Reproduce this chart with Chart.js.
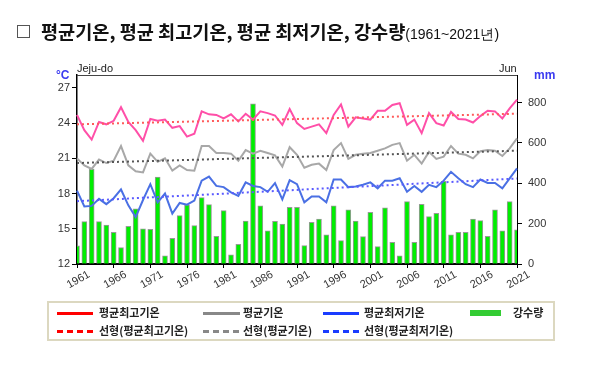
<!DOCTYPE html>
<html>
<head>
<meta charset="utf-8">
<script src="https://cdn.jsdelivr.net/npm/chart.js@4.4.1/dist/chart.umd.min.js"></script>
<style>
  body { margin: 0; width: 600px; height: 368px; background: #fff; position: relative; overflow: hidden; }
  canvas#chart { position: absolute; left: 0; top: 0; }
  .abs { position: absolute; white-space: nowrap; }
  .title { left: 41px; top: 18px; font-family: "Noto Sans CJK KR", sans-serif; font-size: 18.6px; font-weight: bold; color: #111; line-height: 25px; }
  .title small { font-size: 14px; font-weight: normal; font-family: "Liberation Sans", sans-serif; }
  .box { left: 17px; top: 25px; width: 11px; height: 11px; border: 1px solid #555; }
  .lbl { font-family: "Liberation Sans", Arial, sans-serif; font-size: 11px; color: #222; }
  .unit { font-family: "Liberation Sans", Arial, sans-serif; font-size: 12px; font-weight: bold; color: #3a3af0; }
  .legend { left: 47px; top: 301px; width: 504px; height: 36px; border: 2px solid #dcd8c0; }
  .lg { font-family: "Noto Sans CJK KR", sans-serif; font-size: 11px; font-weight: bold; color: #222; line-height: 13px; }
  .solid { height: 3px; }
  .dash { height: 3px; }
</style>
</head>
<body>
<canvas id="chart" width="600" height="368"></canvas>

<div class="abs box"></div>
<div class="abs title">평균기온, 평균 최고기온, 평균 최저기온, 강수량<small>(1961~2021년)</small></div>

<div class="abs lbl" style="left:77px; top:62px;">Jeju-do</div>
<div class="abs lbl" style="left:499px; top:62px;">Jun</div>
<div class="abs unit" style="left:56px; top:68px;">°C</div>
<div class="abs unit" style="left:534px; top:68px;">mm</div>

<div class="abs legend"></div>
<div class="abs solid" style="left:57px; top:312px; width:36px; background:#ff0000;"></div>
<div class="abs lg" style="left:99px; top:306px;">평균최고기온</div>
<div class="abs solid" style="left:203px; top:312px; width:37px; background:#888;"></div>
<div class="abs lg" style="left:243px; top:306px;">평균기온</div>
<div class="abs solid" style="left:323px; top:312px; width:36px; background:#1a3cff;"></div>
<div class="abs lg" style="left:364px; top:306px;">평균최저기온</div>
<div class="abs" style="left:470px; top:310px; width:31px; height:6px; background:#33cc33;"></div>
<div class="abs lg" style="left:513px; top:306px;">강수량</div>

<div class="abs dash" style="left:57px; top:330px; width:36px; background:repeating-linear-gradient(90deg, #ff0000 0 6px, transparent 6px 10px);"></div>
<div class="abs lg" style="left:99px; top:324px;">선형(평균최고기온)</div>
<div class="abs dash" style="left:203px; top:330px; width:36px; background:repeating-linear-gradient(90deg, #888 0 6px, transparent 6px 10px);"></div>
<div class="abs lg" style="left:243px; top:324px;">선형(평균기온)</div>
<div class="abs dash" style="left:323px; top:330px; width:36px; background:repeating-linear-gradient(90deg, #1a3cff 0 6px, transparent 6px 10px);"></div>
<div class="abs lg" style="left:364px; top:324px;">선형(평균최저기온)</div>

<script>
// years on the x axis (June of each year)
const years = [
  '1961','1962','1963','1964','1965','1966','1967','1968','1969','1970',
  '1971','1972','1973','1974','1975','1976','1977','1978','1979','1980',
  '1981','1982','1983','1984','1985','1986','1987','1988','1989','1990',
  '1991','1992','1993','1994','1995','1996','1997','1998','1999','2000',
  '2001','2002','2003','2004','2005','2006','2007','2008','2009','2010',
  '2011','2012','2013','2014','2015','2016','2017','2018','2019','2020','2021'
]
const tickYears = ['1961','1966','1971','1976','1981','1986','1991','1996','2001','2006','2011','2016','2021']

// 평균최고기온 (°C)
const tmax = [
  24.7, 23.4, 22.6, 24.1, 23.9, 24.2, 25.35, 24.1, 23.4, 22.5,
  24.35, 24.2, 24.3, 23.6, 23.75, 22.85, 23.1, 25.0, 24.75, 24.7,
  24.4, 24.75, 24.15, 24.8, 24.3, 25.0, 24.85, 24.65, 23.85, 25.2,
  24.0, 23.5, 23.7, 23.9, 23.15, 24.7, 25.6, 23.7, 24.5, 24.4,
  24.3, 25.05, 25.05, 25.55, 25.7, 23.85, 24.3, 23.15, 24.85, 24.0,
  23.8, 24.95, 24.35, 24.3, 24.05, 24.6, 25.05, 25.0, 24.4, 25.25, 26.0
]
// 평균기온 (°C)
const tmean = [
  21.0, 20.4, 20.1, 20.9, 20.6, 20.8, 22.05, 20.4, 19.9, 19.8,
  21.4, 20.7, 21.0, 19.95, 20.4, 20.0, 19.95, 22.05, 22.05, 21.45,
  21.45, 21.4, 20.8, 21.7, 21.4, 21.65, 21.45, 21.25, 20.3, 21.95,
  21.3, 20.2, 20.45, 20.55, 20.0, 21.7, 22.3, 20.95, 21.3, 21.4,
  21.45, 21.65, 21.85, 22.15, 22.3, 20.8, 21.3, 20.55, 21.55, 20.95,
  21.15, 22.05, 21.4, 21.3, 21.0, 21.6, 21.7, 21.65, 21.2, 21.85, 22.7
]
// 평균최저기온 (°C)
const tmin = [
  18.25, 16.9, 16.95, 17.55, 17.1, 17.6, 18.35, 17.0, 16.0, 17.45,
  18.8, 17.25, 18.0, 16.3, 17.2, 17.05, 17.4, 19.1, 19.45, 18.65,
  18.55, 18.1, 17.8, 18.95, 18.65, 18.55, 18.15, 18.9, 17.5, 19.15,
  18.8, 17.25, 17.75, 17.75, 17.25, 19.2, 19.2, 18.55, 18.6, 18.75,
  18.95, 18.45, 19.1, 19.1, 19.3, 18.15, 18.65, 18.15, 18.75, 18.55,
  19.1, 19.85, 19.3, 18.8, 18.55, 19.2, 18.9, 18.9, 18.45, 19.3, 20.15
]
// 강수량 (mm)
const rain = [
  90, 210, 471, 210, 193, 157, 81, 187, 274, 174,
  172, 431, 41, 127, 240, 293, 190, 329, 294, 137,
  265, 45, 98, 213, 794, 288, 165, 212, 198, 281,
  281, 91, 207, 223, 144, 289, 116, 268, 213, 136,
  256, 86, 279, 108, 41, 309, 108, 296, 235, 251,
  410, 144, 157, 157, 223, 215, 137, 268, 165, 309, 170
]
// trend lines, start (1961) and end (2021)
const trendMax = [23.9, 24.8]
const trendMean = [20.6, 21.65]
const trendMin = [17.35, 19.28]

const trend = (v) => [{ x: '1961', y: v[0] }, { x: '2021', y: v[1] }]

const tickFont = { family: 'Liberation Sans', size: 11 }

// top edge of the plot frame
const framePlugin = {
  id: 'frame',
  afterDraw(chart) {
    const { ctx, chartArea } = chart
    ctx.save()
    ctx.strokeStyle = '#444'
    ctx.lineWidth = 1
    ctx.beginPath()
    ctx.moveTo(chartArea.left, chartArea.top + 0.5)
    ctx.lineTo(chartArea.right, chartArea.top + 0.5)
    ctx.stroke()
    ctx.restore()
  }
}

const ctx = document.getElementById('chart').getContext('2d')
new Chart(ctx, {
  type: 'bar',
  data: {
    labels: years,
    datasets: [
      {
        type: 'line', label: '선형(평균최고기온)', data: trend(trendMax), yAxisID: 'y',
        borderColor: '#ff5a5a', borderWidth: 2, borderDash: [2, 3], pointRadius: 0, order: 0
      },
      {
        type: 'line', label: '선형(평균기온)', data: trend(trendMean), yAxisID: 'y',
        borderColor: '#555555', borderWidth: 2, borderDash: [2, 3], pointRadius: 0, order: 0
      },
      {
        type: 'line', label: '선형(평균최저기온)', data: trend(trendMin), yAxisID: 'y',
        borderColor: '#5a5aff', borderWidth: 2, borderDash: [2, 3], pointRadius: 0, order: 0
      },
      {
        type: 'line', label: '평균최고기온', data: tmax, yAxisID: 'y',
        borderColor: '#ff4fa8', borderWidth: 2, pointRadius: 0, tension: 0, order: 1
      },
      {
        type: 'line', label: '평균기온', data: tmean, yAxisID: 'y',
        borderColor: '#a8a8a8', borderWidth: 2, pointRadius: 0, tension: 0, order: 1
      },
      {
        type: 'line', label: '평균최저기온', data: tmin, yAxisID: 'y',
        borderColor: '#4a70e4', borderWidth: 2, pointRadius: 0, tension: 0, order: 1
      },
      {
        type: 'bar', label: '강수량', data: rain, yAxisID: 'y2',
        backgroundColor: '#00ee00', borderColor: '#999999', borderWidth: 1,
        barThickness: 5, order: 10
      }
    ]
  },
  options: {
    responsive: false,
    animation: false,
    layout: { padding: { top: 75, left: 0, right: 0, bottom: 0 } },
    plugins: {
      legend: { display: false },
      tooltip: { enabled: false }
    },
    scales: {
      x: {
        type: 'category',
        offset: false,
        grid: {
          offset: false,
          drawOnChartArea: false,
          tickLength: 4,
          tickColor: (c) => tickYears.includes(years[c.index]) ? '#000' : 'rgba(0,0,0,0)'
        },
        border: { color: '#000', width: 2 },
        ticks: {
          autoSkip: false,
          minRotation: 30,
          maxRotation: 30,
          labelOffset: 12,
          padding: 0,
          color: '#333',
          font: tickFont,
          callback: function(value, index) {
            return tickYears.includes(years[index]) ? years[index] : ''
          }
        },
        afterFit: (scale) => { scale.height = 104 }
      },
      y: {
        position: 'left',
        min: 12,
        max: 28.1,
        grid: { drawOnChartArea: false, tickLength: 5, tickColor: '#000' },
        border: { color: '#000', width: 1.5 },
        ticks: { stepSize: 3, includeBounds: false, padding: 2, color: '#333', font: tickFont },
        afterFit: (scale) => { scale.width = 77 }
      },
      y2: {
        position: 'right',
        min: 0,
        max: 937,
        grid: { drawOnChartArea: false, tickLength: 5, tickColor: '#000' },
        border: { color: '#000', width: 1 },
        ticks: { stepSize: 200, includeBounds: false, padding: 6, color: '#333', font: tickFont },
        afterFit: (scale) => { scale.width = 83 }
      }
    }
  },
  plugins: [framePlugin]
})
</script>
</body>
</html>
